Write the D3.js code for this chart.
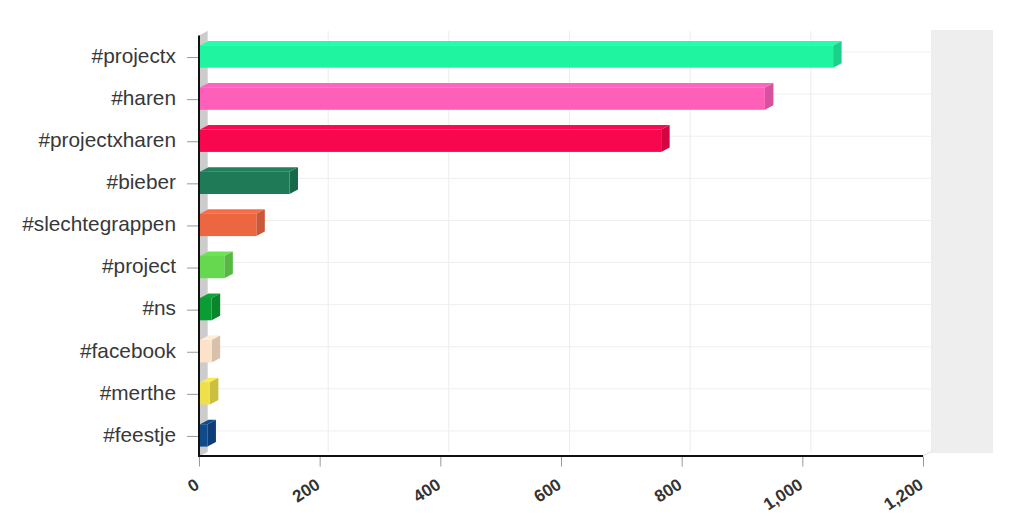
<!DOCTYPE html>
<html lang="en">
<head>
<meta charset="UTF-8">
<script src="https://cdn.jsdelivr.net/npm/d3@7"></script>
<style>
    body{margin:0;background:#fff;}
    svg{display:block;font-family:"Liberation Sans",Arial,sans-serif;}
</style>
<title>hashtags</title>
</head>
<body>
<svg id="chart"></svg>
<script>
    // data
    var tags=["#projectx","#haren","#projectxharen","#bieber","#slechtegrappen","#project","#ns","#facebook","#merthe","#feestje"];
    var counts=[1051,938,766,150,95,42,21,21,18,14];
    var colors=["#1ff5a1","#fe5fb8","#f8074e","#1f7a57","#ed6642","#65d84f","#0c9c34","#fde2ca","#efe04b","#0f4a8a"];
    var xTicks=[0,200,400,600,800,1000,1200];

    var width=1024,height=520;
    var svg=d3.select("#chart").attr("width",width).attr("height",height);

    // plot box (window.top is reserved, so p-prefixed names)
    var pLeft=199,pRight=923,pTop=35.5,pBottom=456.5;
    var dx=8.5,dy=-4.5;   // depth offset

    var x=d3.scaleLinear().domain([0,1200]).range([pLeft,pRight]);
    var y=d3.scaleBand().domain(tags).range([pTop,pBottom]).paddingInner(0.47).paddingOuter(0.235);

    // right frame
    svg.append("rect")
        .attr("x",931).attr("y",30).attr("width",62).attr("height",423)
        .attr("fill","#eeeeee");

    // back grid
    var grid=svg.append("g");
    xTicks.forEach(function(t){
        grid.append("line")
            .attr("x1",x(t)+dx).attr("x2",x(t)+dx)
            .attr("y1",pTop+dy).attr("y2",pBottom+dy)
            .attr("stroke","#ececec");
    });
    tags.forEach(function(c){
        var cy=y(c)+y.bandwidth()/2+dy;
        grid.append("line")
            .attr("x1",pLeft+dx).attr("x2",x(1200)+dx)
            .attr("y1",cy).attr("y2",cy)
            .attr("stroke","#efefef");
    });

    // left side wall
    svg.append("path")
        .attr("d","M"+pLeft+","+pTop+"L"+(pLeft+dx)+","+(pTop+dy)+"L"+(pLeft+dx)+","+(pBottom+dy)+"L"+pLeft+","+pBottom+"Z")
        .attr("fill","#cccccc");

    // bars
    var bars=svg.append("g");
    tags.forEach(function(c,i){
        var x0=x(0)+1,x1=x(counts[i]);
        var y0=y(c),h=y.bandwidth();
        var col=d3.color(colors[i]);
        var g=bars.append("g");
        // top
        g.append("path")
            .attr("d","M"+x0+","+y0+"L"+(x0+dx)+","+(y0+dy)+"L"+(x1+dx)+","+(y0+dy)+"L"+x1+","+y0+"Z")
            .attr("fill",col.brighter(0.15));
        // side
        g.append("path")
            .attr("d","M"+x1+","+y0+"L"+(x1+dx)+","+(y0+dy)+"L"+(x1+dx)+","+(y0+h+dy)+"L"+x1+","+(y0+h)+"Z")
            .attr("fill",col.darker(0.45));
        // front
        g.append("rect")
            .attr("x",x0).attr("y",y0).attr("width",x1-x0).attr("height",h)
            .attr("fill",colors[i]);
    });

    // axes
    var xAxis=svg.append("g").attr("transform","translate(0,"+pBottom+")")
        .call(d3.axisBottom(x).tickValues(xTicks).tickSize(10).tickPadding(0).tickFormat(d3.format(",")));
    xAxis.select(".domain").remove();
    xAxis.selectAll(".tick line").attr("stroke","#999");
    xAxis.selectAll(".tick text")
        .attr("font-size",17).attr("font-weight","bold").attr("fill","#333")
        .attr("text-anchor","end")
        .attr("dy",0).attr("y",0)
        .attr("transform","translate(1,31) rotate(-33)");

    var yAxis=svg.append("g").attr("transform","translate("+pLeft+",0)")
        .call(d3.axisLeft(y).tickSize(12).tickPadding(11));
    yAxis.select(".domain").remove();
    yAxis.selectAll(".tick line").attr("stroke","#999").attr("transform","translate(0,1)");
    yAxis.selectAll(".tick text")
        .attr("font-size",20.8).attr("fill","#383838").attr("dy","0.3em");

    svg.append("line")
        .attr("x1",pLeft).attr("x2",pRight).attr("y1",pBottom-0.5).attr("y2",pBottom-0.5)
        .attr("stroke","#111").attr("stroke-width",2);
    svg.append("line")
        .attr("x1",pRight).attr("x2",pRight+dx).attr("y1",pBottom-0.5).attr("y2",pBottom-0.5+dy)
        .attr("stroke","#ddd");
    svg.append("line")
        .attr("x1",pLeft).attr("x2",pLeft).attr("y1",pTop).attr("y2",pBottom+0.5)
        .attr("stroke","#111").attr("stroke-width",2);
</script>
</body>
</html>
